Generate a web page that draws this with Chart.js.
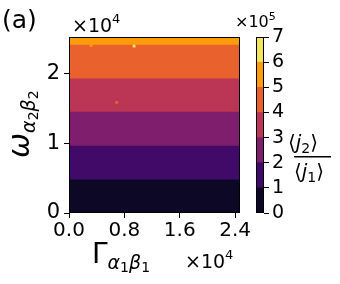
<!DOCTYPE html>
<html>
<head>
<meta charset="utf-8">
<script src="https://cdn.jsdelivr.net/npm/chart.js@4.4.1/dist/chart.umd.min.js"></script>
<style>
body{margin:0;background:#fff;}
#wrap{position:relative;width:340px;height:284px;}
canvas{position:absolute;left:0;top:0;}
</style>
</head>
<body>
<div id="wrap">
  <canvas id="main" width="340" height="284"></canvas>
  <canvas id="cbar" width="340" height="284"></canvas>
</div>
<script>
// axes in units of 1e4, ratio in units of 1e5
const levels = [0, 1, 2, 3, 4, 5, 6, 7];
const levelColors = ['#0c0826', '#420a68', '#7f1e6c', '#bb3655', '#e9612c', '#fb9c0a', '#f3e55d'];
const bandTop = [0.48, 0.965, 1.455, 1.935, 2.42, 2.53];   // omega where each band ends
const bandLevel = [0, 1, 2, 3, 4, 5];
const spotX = [0.32, 0.94, 0.69];
const spotY = [2.41, 2.40, 1.59];
const spotLevel = [5, 6, 4];
const xTicks = [0, 0.8, 1.6, 2.4];
const yTicks = [0, 1, 2];
const xMax = 2.47, yMax = 2.53;

const FONT = 'DejaVu Sans';

// draw a run of text pieces (for sub/superscripts)
function drawParts(ctx, parts, x, y) {
  let cx = x;
  parts.forEach(p => {
    ctx.font = (p.italic ? 'italic ' : '') + p.size + 'px "' + FONT + '"';
    ctx.fillText(p.t, cx, y + (p.dy || 0));
    cx += ctx.measureText(p.t).width + (p.gap || 0);
  });
  return cx;
}

const frame = {
  id: 'frame',
  afterDatasetsDraw(chart) {
    const a = chart.chartArea, ctx = chart.ctx;
    ctx.save();
    ctx.strokeStyle = '#000';
    ctx.lineWidth = 1;
    ctx.strokeRect(Math.round(a.left) + 0.5, Math.round(a.top) + 0.5,
      Math.round(a.right - a.left) - 1, Math.round(a.bottom - a.top) - 1);
    ctx.restore();
  }
};

const labels = {
  id: 'labels',
  afterDraw(chart) {
    const ctx = chart.ctx;
    ctx.save();
    ctx.fillStyle = '#000';
    ctx.textBaseline = 'alphabetic';
    ctx.textAlign = 'left';
    drawParts(ctx, [{t: '(a)', size: 25}], 2, 28);
    // offset texts
    drawParts(ctx, [{t: '×10', size: 19}, {t: '4', size: 13, dy: -9}], 72, 32);
    drawParts(ctx, [{t: '×10', size: 19}, {t: '4', size: 13, dy: -9}], 185, 268);
    drawParts(ctx, [{t: '×10', size: 16}, {t: '5', size: 11, dy: -7}], 235, 27);
    // x title
    drawParts(ctx, [{t: 'Γ', size: 28}, {t: 'α', size: 19, italic: true, dy: 6},
      {t: '1', size: 14, dy: 9}, {t: 'β', size: 19, italic: true, dy: 6},
      {t: '1', size: 14, dy: 9}], 92, 263);
    // y title
    ctx.save();
    ctx.translate(29, 158);
    ctx.rotate(-Math.PI / 2);
    drawParts(ctx, [{t: 'ω', size: 30, italic: true}, {t: 'α', size: 19, italic: true, dy: 6},
      {t: '2', size: 14, dy: 9}, {t: 'β', size: 19, italic: true, dy: 6},
      {t: '2', size: 14, dy: 9}], 0, 0);
    ctx.restore();
    // colorbar label
    drawParts(ctx, [{t: '⟨', size: 20}, {t: 'j', size: 20, italic: true},
      {t: '2', size: 14, dy: 4}, {t: '⟩', size: 20}], 288, 149);
    ctx.fillRect(294, 156, 37, 1.5);
    drawParts(ctx, [{t: '⟨', size: 20}, {t: 'j', size: 20, italic: true},
      {t: '1', size: 14, dy: 4}, {t: '⟩', size: 20}], 294, 178);
    ctx.restore();
  }
};

const bandSets = bandTop.map((top, i) => ({
  type: 'line',
  data: [{x: 0, y: top}, {x: xMax, y: top}],
  borderColor: 'rgba(0,0,0,0)',
  borderWidth: 0,
  pointRadius: 0,
  fill: {value: 0},
  backgroundColor: levelColors[bandLevel[i]]
}));

const spotSet = {
  type: 'scatter',
  data: spotX.map((x, i) => ({x: x, y: spotY[i]})),
  pointStyle: 'rect',
  pointRadius: 2,
  borderWidth: 0,
  backgroundColor: spotLevel.map(l => levelColors[l])
};

function tickGrid() {
  return {drawOnChartArea: false, drawTicks: true, tickLength: 5, color: '#000', lineWidth: 1};
}

new Chart(document.getElementById('main'), {
  type: 'scatter',
  data: {datasets: [spotSet].concat(bandSets)},
  options: {
    responsive: false,
    animation: false,
    events: [],
    layout: {padding: {top: 37, right: 100, left: 0, bottom: 0}},
    plugins: {legend: {display: false}, tooltip: {enabled: false}},
    scales: {
      x: {
        type: 'linear', min: 0, max: xMax,
        afterBuildTicks: s => { s.ticks = xTicks.map(v => ({value: v})); },
        afterFit: s => { s.height = 71; },
        ticks: {color: '#000', font: {family: FONT, size: 20}, padding: 1,
          maxRotation: 0, autoSkip: false, callback: v => v.toFixed(1)},
        grid: tickGrid(),
        border: {display: false}
      },
      y: {
        type: 'linear', min: 0, max: yMax,
        afterBuildTicks: s => { s.ticks = yTicks.map(v => ({value: v})); },
        afterFit: s => { s.width = 69; },
        ticks: {color: '#000', font: {family: FONT, size: 21}, padding: 4,
          autoSkip: false, callback: v => String(v)},
        grid: tickGrid(),
        border: {display: false}
      }
    }
  },
  plugins: [frame, labels]
});

// colorbar
new Chart(document.getElementById('cbar'), {
  type: 'bar',
  data: {
    labels: ['r'],
    datasets: levelColors.map((c, i) => ({
      data: [levels[i + 1] - levels[i]],
      backgroundColor: c,
      borderWidth: 0,
      barPercentage: 1,
      categoryPercentage: 1
    }))
  },
  options: {
    responsive: false,
    animation: false,
    events: [],
    layout: {padding: {top: 37, right: 0, left: 256, bottom: 71}},
    plugins: {legend: {display: false}, tooltip: {enabled: false}},
    scales: {
      x: {stacked: true, display: false},
      y: {
        stacked: true, position: 'right', min: 0, max: 7,
        afterBuildTicks: s => { s.ticks = levels.map(v => ({value: v})); },
        afterFit: s => { s.width = 76; },
        ticks: {color: '#000', font: {family: FONT, size: 19}, padding: 3, autoSkip: false},
        grid: tickGrid(),
        border: {display: false}
      }
    }
  },
  plugins: [frame]
});
</script>
</body>
</html>
